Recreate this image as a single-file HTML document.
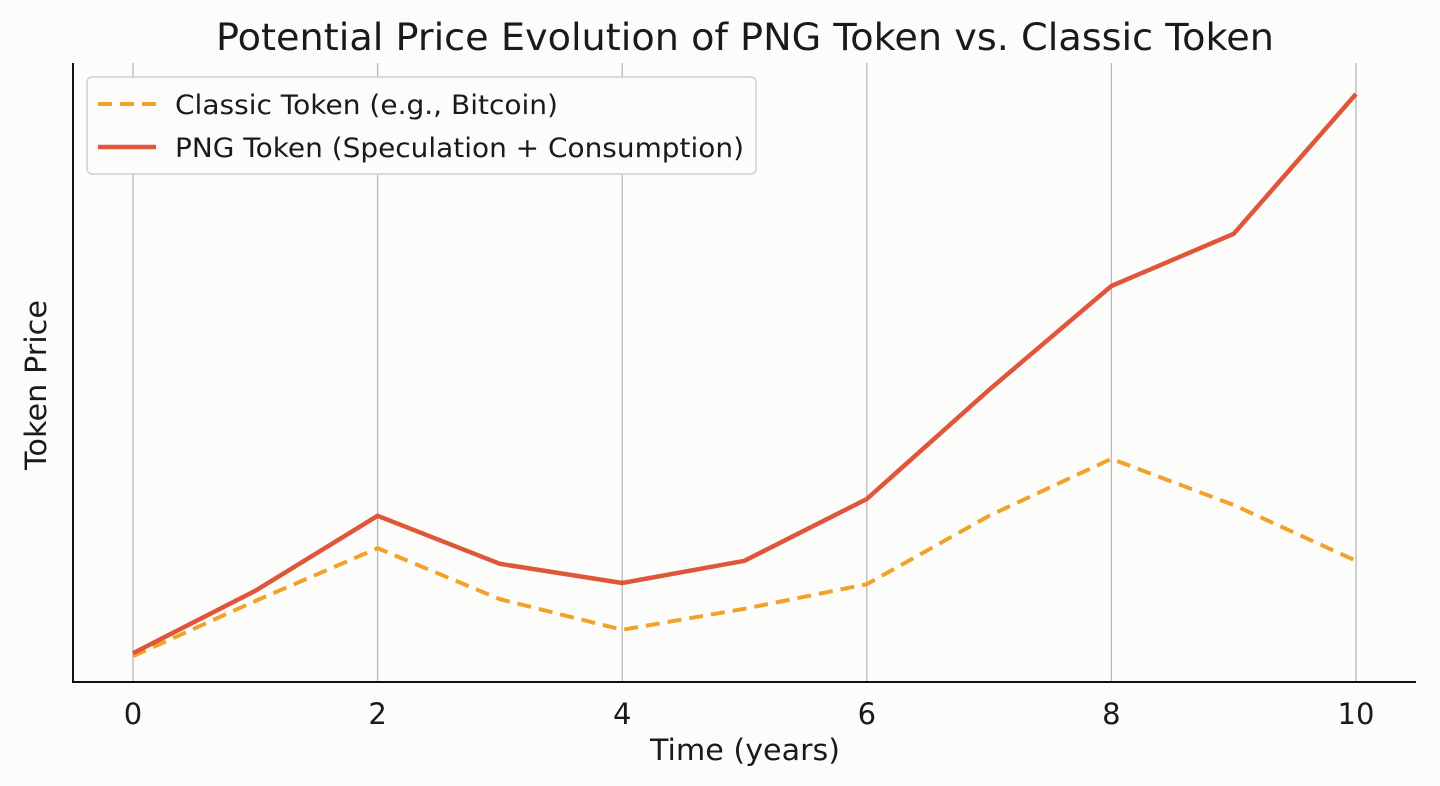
<!DOCTYPE html>
<html><head><meta charset="utf-8"><style>
html,body{margin:0;padding:0;background:#fcfcfa;}
svg{display:block;font-family:"DejaVu Sans","Liberation Sans",sans-serif;}
</style></head><body>
<svg id="chart" width="1440" height="786" viewBox="0 0 1440 786">
<rect width="1440" height="786" fill="#fcfcfa"/>
<text x="745" y="50" font-size="37" text-anchor="middle" fill="#1a1a1a" textLength="1058" lengthAdjust="spacingAndGlyphs">Potential Price Evolution of PNG Token vs. Classic Token</text>
<g id="grid"></g>
<g id="ticks"></g>
<line x1="73" y1="63" x2="73" y2="682" stroke="#111" stroke-width="2"/>
<line x1="72" y1="682" x2="1416" y2="682" stroke="#111" stroke-width="2"/>
<text x="745" y="760" font-size="29" text-anchor="middle" fill="#1a1a1a" textLength="190" lengthAdjust="spacingAndGlyphs">Time (years)</text>
<text transform="translate(46,385) rotate(-90)" font-size="29" text-anchor="middle" fill="#1a1a1a" textLength="170" lengthAdjust="spacingAndGlyphs">Token Price</text>
<path id="classic-line" fill="none" stroke="#f2a12a" stroke-width="4" stroke-dasharray="14,8"/>
<path id="png-line" fill="none" stroke="#e0563a" stroke-width="4.5" stroke-linejoin="round"/>
<g>
<rect x="87" y="77" width="669" height="97" rx="5" fill="#fcfcfa" stroke="#d0d0d0" stroke-width="1.5"/>
<line x1="98" y1="104" x2="156" y2="104" stroke="#f2a12a" stroke-width="4" stroke-dasharray="14,8"/>
<text x="175" y="114" font-size="27" fill="#1a1a1a" textLength="383" lengthAdjust="spacingAndGlyphs">Classic Token (e.g., Bitcoin)</text>
<line x1="98" y1="147" x2="156" y2="147" stroke="#e0563a" stroke-width="4.5"/>
<text x="175" y="157" font-size="27" fill="#1a1a1a" textLength="569" lengthAdjust="spacingAndGlyphs">PNG Token (Speculation + Consumption)</text>
</g>
</svg>
<script>
const years = [0,1,2,3,4,5,6,7,8,9,10];
const pngValues = [4.8,15.2,27.7,19.7,16.5,20.2,30.5,48.7,66,74.7,98];
const classicValues = [4.3,13.5,22.3,13.8,8.7,12.2,16.3,27.7,37.2,29.5,20.2];
const xTicks = [0,2,4,6,8,10];
const xTickLabels = ["0","2","4","6","8","10"];
const NS="http://www.w3.org/2000/svg";
function xs(v){return 133+(1356-133)*v/10;}
function ys(v){return 682-6*v;}
const grid=document.getElementById('grid'), ticks=document.getElementById('ticks');
xTicks.forEach((t,i)=>{
  const l=document.createElementNS(NS,'line');
  l.setAttribute('x1',xs(t));l.setAttribute('x2',xs(t));l.setAttribute('y1',63);l.setAttribute('y2',682);
  l.setAttribute('stroke','#b8b8bc');l.setAttribute('stroke-width','1.3');
  
  
  grid.appendChild(l);
  const tk=document.createElementNS(NS,'text');
  tk.setAttribute('x',xs(t));tk.setAttribute('y',724);tk.setAttribute('font-size','29');
  tk.setAttribute('text-anchor','middle');tk.setAttribute('fill','#1a1a1a');
  tk.textContent=xTickLabels[i];
  
  
  ticks.appendChild(tk);
});
function path(vals){return vals.map((v,i)=>(i?'L':'M')+xs(years[i])+','+ys(v)).join(' ');}
document.getElementById('png-line').setAttribute('d',path(pngValues));
document.getElementById('classic-line').setAttribute('d',path(classicValues));
</script>
</body></html>
